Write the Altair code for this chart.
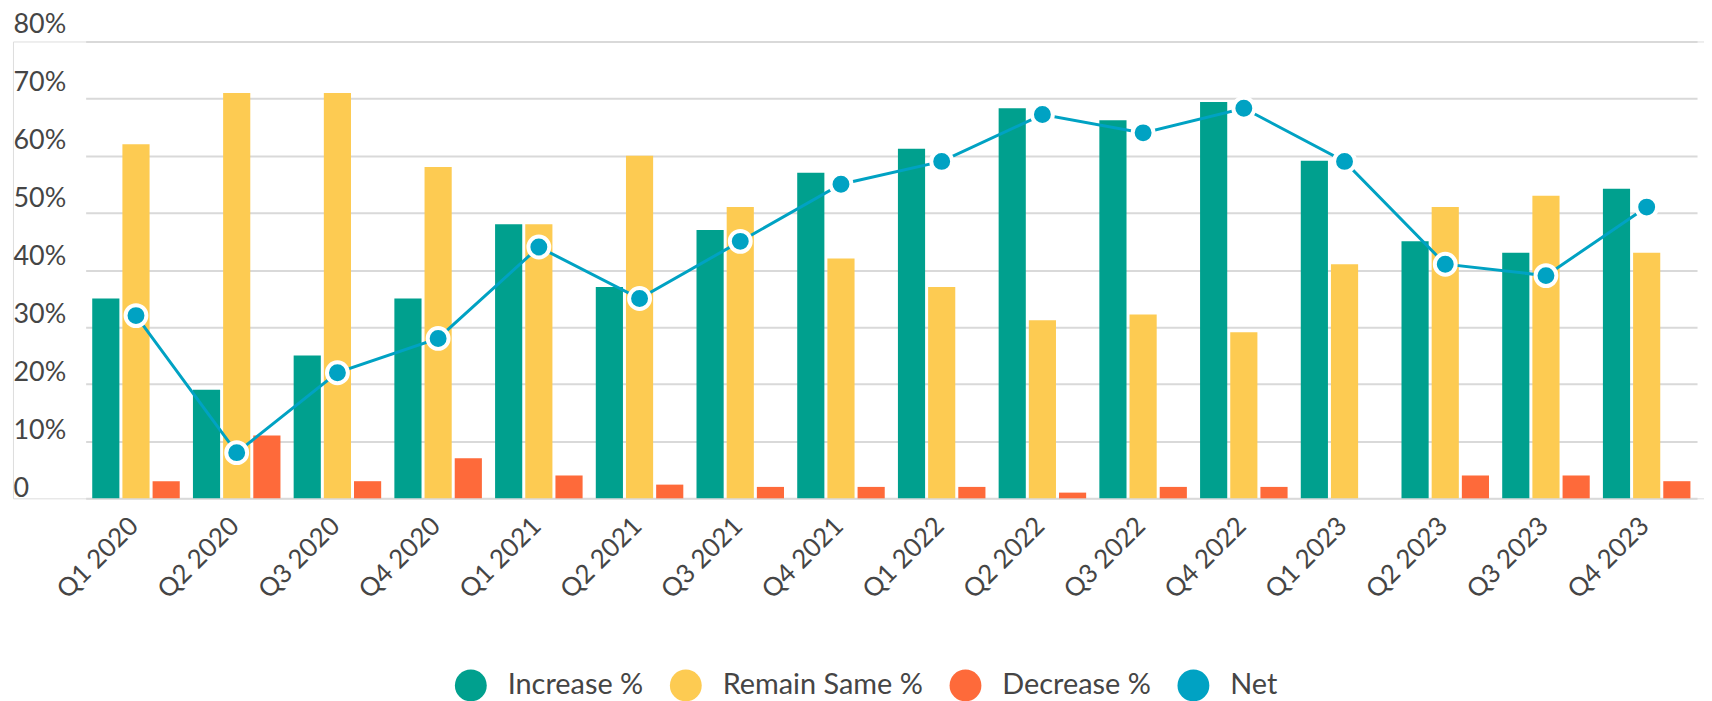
import altair as alt
import pandas as pd

quarters = ["Q1 2020", "Q2 2020", "Q3 2020", "Q4 2020",
            "Q1 2021", "Q2 2021", "Q3 2021", "Q4 2021",
            "Q1 2022", "Q2 2022", "Q3 2022", "Q4 2022",
            "Q1 2023", "Q2 2023", "Q3 2023", "Q4 2023"]
increase = [35, 19, 25, 35, 48, 37, 47, 57, 61.2, 68.3, 66.2, 69.4, 59.1, 45, 43, 54.2]
remain_same = [62, 71, 71, 58, 48, 60, 51, 42, 37, 31.2, 32.2, 29.1, 41, 51, 53, 43]
decrease = [3, 11, 3, 7, 4, 2.4, 2, 2, 2, 1, 2, 2, None, 4, 4, 3]
net = [32, 8, 22, 28, 44, 35, 45, 55, 59, 67.2, 64, 68.3, 59, 41, 39, 51]

series_names = ["Increase %", "Remain Same %", "Decrease %", "Net"]
series_colors = ["#00A08E", "#FDCB52", "#FE6A3A", "#00A2C3"]
y_ticks = [0, 10, 20, 30, 40, 50, 60, 70, 80]

rows = []
for i, q in enumerate(quarters):
    for name, vals in zip(series_names[:3], [increase, remain_same, decrease]):
        if vals[i] is not None:
            rows.append({"quarter": q, "series": name, "value": vals[i]})
bar_df = pd.DataFrame(rows)
net_df = pd.DataFrame({"quarter": quarters, "net": net})

FONT = "Lato"
TXT = "#454545"

x_enc = alt.X(
    "quarter:N", sort=quarters,
    scale=alt.Scale(range=[73, 1692], paddingInner=0.131, paddingOuter=0.0655),
    axis=alt.Axis(title=None, domain=False, ticks=False, tickSize=0, grid=False,
                  labelAngle=-45, labelAlign="right", labelBaseline="top",
                  labelPadding=14, labelOffset=-11, labelFont=FONT, labelFontSize=26,
                  labelColor=TXT, labelOverlap=False, labelLimit=300),
)

y_scale = alt.Scale(domain=[0, 80], nice=False, zero=True)

bars = alt.Chart(bar_df).mark_bar().encode(
    x=x_enc,
    xOffset=alt.XOffset("series:N", sort=series_names[:3],
                        scale=alt.Scale(paddingInner=0.1, paddingOuter=0)),
    y=alt.Y("value:Q", scale=y_scale,
            axis=alt.Axis(title=None, values=y_ticks, domain=False, ticks=False,
                          tickSize=0, labelPadding=0, labelAlign="left",
                          labelBaseline="alphabetic",
                          labelOffset={"expr": "-(2 + datum.value * 0.0875)"},
                          labelExpr="datum.value == 0 ? '0' : datum.value + '%'",
                          labelFont=FONT, labelFontSize=27, labelColor=TXT,
                          gridColor="#D9D9D9", gridWidth=2, labelOverlap=False)),
    color=alt.Color("series:N",
                    scale=alt.Scale(domain=series_names, range=series_colors),
                    legend=alt.Legend(title=None, orient="none", legendX=444, legendY=631,
                                      direction="horizontal", symbolType="circle",
                                      symbolSize=1024, symbolStrokeWidth=0,
                                      labelFont=FONT, labelFontSize=29, labelColor=TXT,
                                      labelOffset=21, columnPadding=26, labelLimit=400)),
)

line = alt.Chart(net_df).mark_line(color="#00A2C3", strokeWidth=3).encode(
    x=alt.X("quarter:N", sort=quarters),
    y=alt.Y("net:Q", scale=y_scale),
)

points = alt.Chart(net_df).mark_point(filled=True, fill="#00A2C3", stroke="white",
                                      strokeWidth=4, size=441, opacity=1).encode(
    x=alt.X("quarter:N", sort=quarters),
    y=alt.Y("net:Q", scale=y_scale),
)

chart = alt.layer(bars, line, points).properties(
    width=1699, height=459,
    padding={"left": 5, "top": 32, "right": 0, "bottom": 205},
    autosize=alt.AutoSizeParams(type="none"),
).configure_view(stroke=None).configure(font=FONT)

chart.save("out.html", embed_options={"renderer": "svg", "actions": False})
